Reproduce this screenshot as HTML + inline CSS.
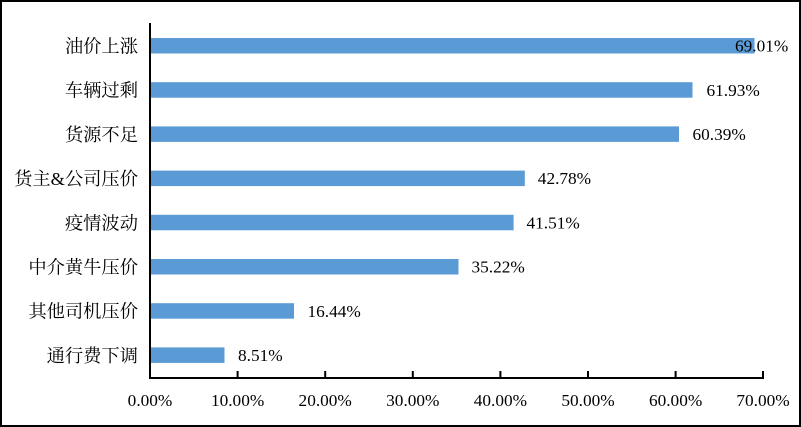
<!DOCTYPE html>
<html>
<head>
<meta charset="utf-8">
<style>
html,body{margin:0;padding:0;background:#fff;}
svg{display:block;}
.cat{font-family:"Liberation Serif","Noto Serif CJK SC","Noto Sans CJK SC",serif;font-size:18.3px;fill:#000;}
.num{font-family:"Liberation Serif",serif;font-size:17.3px;fill:#000;}
</style>
</head>
<body>
<svg width="801" height="427" viewBox="0 0 801 427" xmlns="http://www.w3.org/2000/svg">
<rect x="0" y="0" width="801" height="427" fill="#fff"/>
<rect x="1" y="1" width="799" height="425" fill="none" stroke="#000" stroke-width="2"/>

<!-- bars -->
<g fill="#5B9BD5">
<rect x="151" y="38" width="603.5" height="15.5"/>
<rect x="151" y="82.2" width="541.5" height="15.5"/>
<rect x="151" y="126.4" width="528" height="15.5"/>
<rect x="151" y="170.6" width="373.8" height="15.5"/>
<rect x="151" y="214.8" width="362.6" height="15.5"/>
<rect x="151" y="259" width="307.5" height="15.5"/>
<rect x="151" y="303.2" width="143" height="15.5"/>
<rect x="151" y="347.4" width="73.5" height="15.5"/>
</g>

<!-- axes -->
<rect x="149" y="23" width="2" height="356" fill="#000"/>
<rect x="149" y="377" width="615" height="2" fill="#000"/>
<g fill="#000">
<rect x="236.6" y="371" width="2" height="7"/>
<rect x="324.2" y="371" width="2" height="7"/>
<rect x="411.8" y="371" width="2" height="7"/>
<rect x="499.4" y="371" width="2" height="7"/>
<rect x="587" y="371" width="2" height="7"/>
<rect x="674.6" y="371" width="2" height="7"/>
<rect x="762" y="371" width="2" height="7"/>
</g>

<!-- category labels -->
<g class="cat" text-anchor="end">
<text x="138" y="52.5">油价上涨</text>
<text x="138" y="96.7">车辆过剩</text>
<text x="138" y="140.9">货源不足</text>
<text x="138" y="185.1">货主&amp;公司压价</text>
<text x="138" y="229.3">疫情波动</text>
<text x="138" y="273.5">中介黄牛压价</text>
<text x="138" y="317.7">其他司机压价</text>
<text x="138" y="361.9">通行费下调</text>
</g>

<!-- value labels -->
<g class="num">
<text x="735" y="51.6">69.01%</text>
<text x="706.5" y="95.8">61.93%</text>
<text x="692.5" y="140">60.39%</text>
<text x="537.8" y="184.2">42.78%</text>
<text x="526.5" y="228.4">41.51%</text>
<text x="471.5" y="272.6">35.22%</text>
<text x="307.5" y="316.8">16.44%</text>
<text x="238" y="361">8.51%</text>
</g>

<!-- tick labels -->
<g class="num" text-anchor="middle">
<text x="150" y="406">0.00%</text>
<text x="237.6" y="406">10.00%</text>
<text x="325.2" y="406">20.00%</text>
<text x="412.8" y="406">30.00%</text>
<text x="500.4" y="406">40.00%</text>
<text x="588" y="406">50.00%</text>
<text x="675.6" y="406">60.00%</text>
<text x="763" y="406">70.00%</text>
</g>
</svg>
</body>
</html>
